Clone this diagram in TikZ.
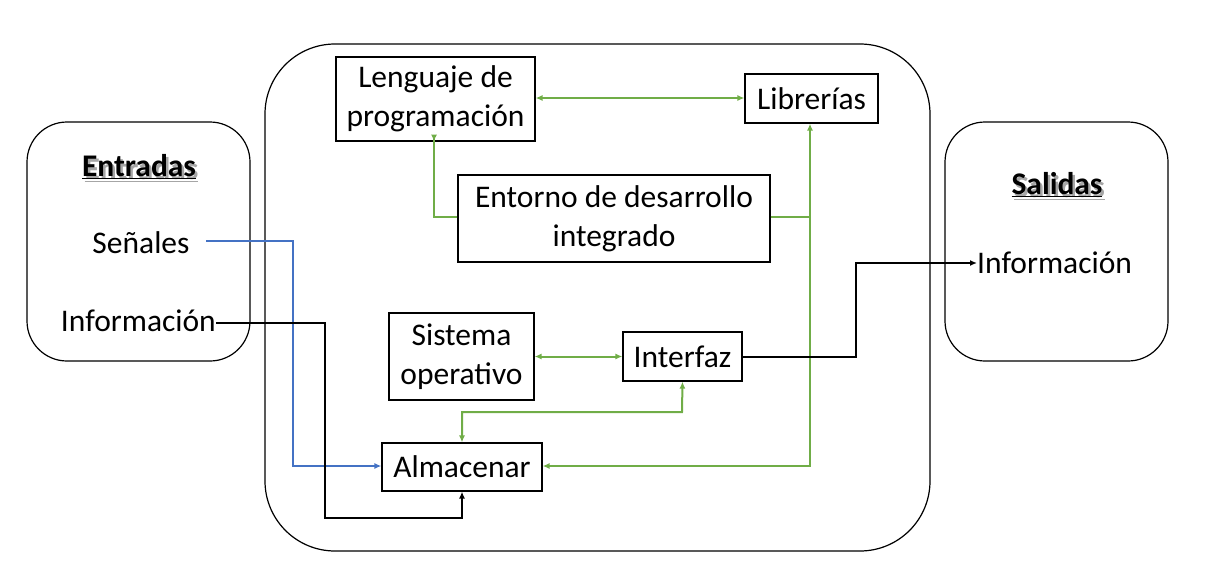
\documentclass[tikz,border=0pt]{standalone}
\usepackage{fontspec}
\setmainfont{Carlito}
\usetikzlibrary{arrows.meta}
\definecolor{cgreen}{HTML}{70AD47}
\definecolor{cblue}{HTML}{4472C4}
\newcommand\shtitle[1]{\makebox[0pt][l]{\hspace{2.5pt}\raisebox{-2.5pt}{\color{black!35}\underline{\textbf{#1}}}}\underline{\textbf{#1}}}
\tikzset{
  every node/.style={font=\fontsize{31.5}{39}\selectfont, inner sep=0pt, align=center},
  container/.style={draw=black, line width=1.2pt, rounded corners=#1},
  blk/.style={draw=black, line width=1.2pt},
  garr/.style={draw=cgreen, line width=2pt, {Latex[length=7pt,width=6pt]}-{Latex[length=7pt,width=6pt]}},
  garr1/.style={draw=cgreen, line width=2pt, -{Latex[length=7pt,width=6pt]}},
  gline/.style={draw=cgreen, line width=2pt},
  barr/.style={draw=cblue, line width=2pt, -{Latex[length=7pt,width=6pt]}},
  karr/.style={draw=black, line width=2pt, -{Latex[length=7pt,width=6pt]}},
}
\begin{document}
\begin{tikzpicture}[x=1pt,y=-1pt]
\useasboundingbox (0,0) rectangle (1221,587);
% containers
\draw[container=40pt] (27,122) rectangle (250,361);
\draw[container=40pt] (945,122) rectangle (1168,361);
\draw[container=70pt] (265,44) rectangle (930,551);
% titles and labels
\node (ent) at (139,168) {\shtitle{Entradas}};
\node (sal) at (1057,186) {\shtitle{Salidas}};
\node (sen) at (141,243) {Señales};
\coordinate (senout) at (206,241);
\node[anchor=east] (infin) at (216,321) {Información};
\node[anchor=west] (infout) at (977,263) {Información};
% blocks
\node[blk, minimum width=199pt, minimum height=84pt] (len) at (435.5,99) {Lenguaje de\\programación};
\node[blk, minimum width=133pt, minimum height=49pt] (lib) at (811.5,98.5) {Librerías};
\node[blk, minimum width=312pt, minimum height=87pt] (ide) at (614,218.5) {Entorno de desarrollo\\integrado};
\node[blk, minimum width=145pt, minimum height=87pt] (so) at (461.5,356.5) {Sistema\\operativo};
\node[blk, minimum width=119pt, minimum height=49pt] (int) at (682.5,356.5) {Interfaz};
\node[blk, minimum width=160pt, minimum height=48pt] (alm) at (462,467) {Almacenar};
% connectors
\coordinate (j) at (810,217);
\draw[garr] (len.east |- 0,98) -- (lib.west |- 0,98);
\draw[garr1] (ide.west |- 0,217) -| (434,141) -- (434,0 |- len.south);
\draw[gline] (ide.east |- 0,217) -- (j);
\draw[garr] (810,0 |- lib.south) -- (810,466) -- (alm.east |- 0,466);
\draw[garr] (so.east) -- (int.west);
\draw[garr] (int.south) -- (682,412) -| (alm.north);
\draw[barr] (senout) -| (293,466) -- (alm.west |- 0,466);
\draw[karr] (infin.east) ++(0,2) -| (325,518) -| (alm.south);
\draw[karr] (int.east) -| (856,263) -- (infout.west);
\end{tikzpicture}
\end{document}
